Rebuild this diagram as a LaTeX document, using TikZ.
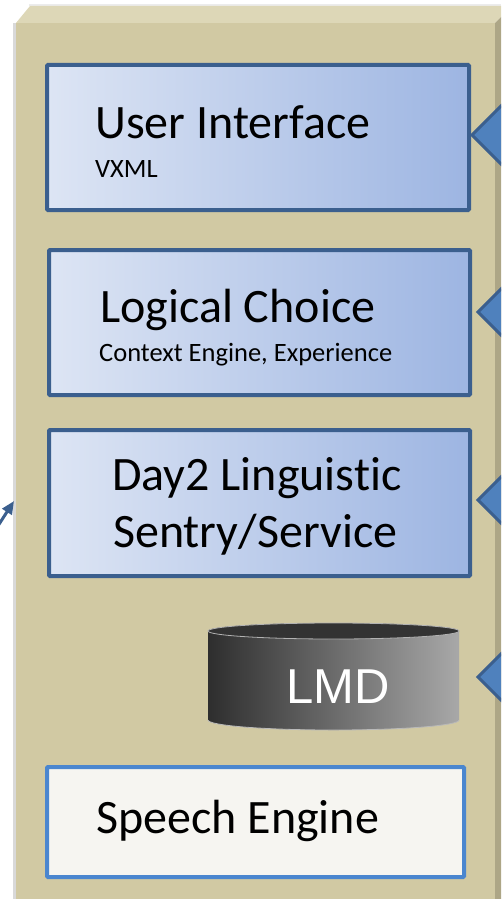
\documentclass[tikz,border=0pt]{standalone}
\usepackage{fontspec}
\setmainfont{Carlito}[Ligatures=CommonOff]
\newfontfamily\lmdfont{Liberation Sans}
\usetikzlibrary{arrows.meta}
\definecolor{panelface}{HTML}{D1C9A3}
\definecolor{paneltop}{HTML}{DDD7B7}
\definecolor{panelside}{HTML}{ADA686}
\definecolor{boxborder}{HTML}{3B5F8E}
\definecolor{boxlight}{HTML}{DDE5F4}
\definecolor{boxdark}{HTML}{9DB5E2}
\definecolor{arrowfill}{HTML}{4F81BD}
\definecolor{seborder}{HTML}{4A86CF}
\definecolor{sefill}{HTML}{F6F5F1}
\definecolor{cyldark}{HTML}{2E2E2E}
\definecolor{cyllight}{HTML}{A8A8A8}
\definecolor{cyltop}{HTML}{333333}
\begin{document}
\begin{tikzpicture}[x=1pt,y=-1pt,
  layerbox/.style={draw=boxborder, line width=4pt, left color=boxlight, right color=boxdark,
    rounded corners=1pt, inner sep=0pt},
  enginebox/.style={draw=seborder, line width=4pt, fill=sefill, rounded corners=1pt, inner sep=0pt},
  bigtext/.style={font=\fontsize{48}{56}\selectfont, inner sep=0pt, anchor=base west},
  smalltext/.style={font=\fontsize{26.5}{31}\selectfont, inner sep=0pt, anchor=base west},
  sidearrow/.style={fill=arrowfill, draw=boxborder, line width=3pt, line join=miter},
]
\useasboundingbox (0,0) rectangle (501,899);
\clip (0,0) rectangle (501,899);
\fill[white] (0,0) rectangle (501,899);
% panel
\fill[gray!30] (13,23) rectangle (16,899);
\fill[gray!15] (29,4) rectangle (501,6);
\fill[panelface] (16,23) rectangle (495,899);
\fill[paneltop] (16,23) -- (30,6) -- (501,6) -- (501,17) -- (495,23) -- cycle;
\fill[panelside] (495,23) -- (501,17) -- (501,899) -- (495,899) -- cycle;
% boxes
\node[layerbox, minimum width=422pt, minimum height=145pt] (ui) at (258,137.5) {};
\node[layerbox, minimum width=421pt, minimum height=145pt] (lc) at (259.5,322.5) {};
\node[layerbox, minimum width=421pt, minimum height=146pt] (day2) at (259.5,503) {};
\node[enginebox, minimum width=417pt, minimum height=110pt] (se) at (255.5,822) {};
% texts
\node[bigtext] (uit) at (95,138) {User Interface};
\node[smalltext] (uis) at (95,177) {VXML};
\node[bigtext] (lct) at (100,322) {Logical Choice};
\node[smalltext] (lcs) at (99,361) {Context Engine, Experience};
\node[bigtext] (d2a) at (112,490) {Day2 Linguistic};
\node[bigtext] (d2b) at (113,547) {Sentry/Service};
\node[bigtext] (set) at (96,833) {Speech Engine};
% LMD cylinder
\shade[left color=cyldark, right color=cyllight] (208,631) -- (208,720)
  arc[start angle=180, end angle=360, x radius=125.5pt, y radius=10pt]
  -- (459,631) arc[start angle=0, end angle=180, x radius=125.5pt, y radius=8pt] -- cycle;
\draw[gray!55, line width=0.8pt] (208,720)
  arc[start angle=180, end angle=360, x radius=125.5pt, y radius=10pt];
\fill[cyltop, draw=gray!60, line width=0.8pt] (333.5,631) ellipse[x radius=125.5pt, y radius=8pt];
\node[inner sep=0pt, minimum width=251pt, minimum height=107pt] (lmd) at (333.5,676) {};
\node[font=\lmdfont\fontsize{49}{56}\selectfont, text=white, inner sep=0pt, anchor=base west] (lmdt) at (286,703) {LMD};
% right arrow heads
\coordinate (a1) at (472,135);
\coordinate (a2) at (478,312);
\coordinate (a3) at (478,500);
\coordinate (a4) at (478,677);
\foreach \t in {a1,a2,a3,a4}{
  \draw[sidearrow] (\t) -- ++(45,-45) -- ++(0,90) -- cycle;
}
% left arrow
\coordinate (lstart) at (-6,532);
\coordinate (lend) at (14,501);
\draw[boxborder, line width=3pt, -{Triangle[length=13pt,width=11pt]}] (lstart) -- (lend);
\end{tikzpicture}
\end{document}
